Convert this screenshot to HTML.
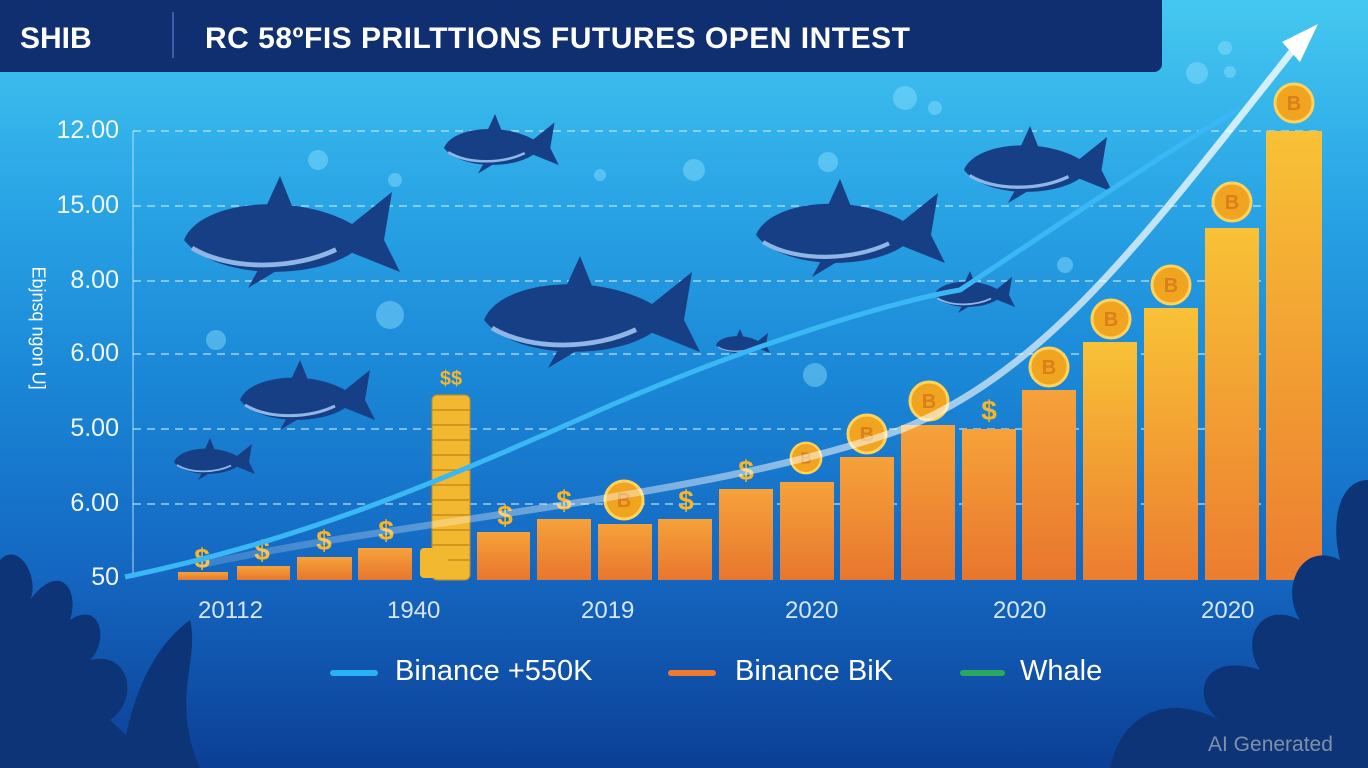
<!DOCTYPE html>
<html><head><meta charset="utf-8"><style>
html,body{margin:0;padding:0}
body{width:1368px;height:768px;overflow:hidden;position:relative;font-family:"Liberation Sans",sans-serif;
background:linear-gradient(180deg,#45c8f0 0%,#2aa6e6 25%,#1a86d6 50%,#1466c0 75%,#0c3f96 100%);}
.t{position:absolute;white-space:nowrap}
.yl{position:absolute;right:0;white-space:nowrap}
</style></head><body>
<svg width="1368" height="768" style="position:absolute;left:0;top:0">
<defs>
<linearGradient id="bar" x1="0" y1="1" x2="0" y2="0"><stop offset="0" stop-color="#e8762e"/><stop offset="1" stop-color="#f6a23a"/></linearGradient>
<linearGradient id="bar2" x1="0" y1="1" x2="0" y2="0"><stop offset="0" stop-color="#ec7d30"/><stop offset="1" stop-color="#f8c236"/></linearGradient>
<linearGradient id="wl" x1="0" x2="1"><stop offset="0" stop-color="#fff" stop-opacity="0.2"/><stop offset="1" stop-color="#fff"/></linearGradient>
<g id="wh"><path d="M-60,0 C-50,-25 10,-30 45,-10 L70,-30 L65,0 L75,20 L45,8 C20,25 -40,25 -60,0Z" fill="#173f86"/><path d="M-10,-18 L0,-40 L8,-20Z" fill="#173f86"/><path d="M-10,12 L-20,30 L5,15Z" fill="#173f86"/><path d="M-55,5 C-30,20 10,18 35,6" stroke="#8fb6e6" stroke-width="3" fill="none"/></g>
<g id="coin"><circle r="19" fill="#f0a420" stroke="#ffd25a" stroke-width="3"/><text y="7" text-anchor="middle" font-size="20" fill="#d9801a" font-family="Liberation Sans" font-weight="bold">B</text></g>
</defs>
<g fill="#8fe0ff" opacity="0.45">
<circle cx="318" cy="160" r="10"/><circle cx="395" cy="180" r="7"/><circle cx="600" cy="175" r="6"/><circle cx="694" cy="170" r="11"/><circle cx="828" cy="162" r="10"/><circle cx="905" cy="98" r="12"/><circle cx="935" cy="108" r="7"/><circle cx="1197" cy="73" r="11"/><circle cx="1225" cy="48" r="7"/><circle cx="390" cy="315" r="14"/><circle cx="216" cy="340" r="10"/><circle cx="815" cy="375" r="12"/><circle cx="1065" cy="265" r="8"/><circle cx="1230" cy="72" r="6"/><circle cx="965" cy="300" r="6"/>
</g>
<line x1="133" y1="131" x2="133" y2="578" stroke="#bfe6fb" stroke-width="1.5" opacity="0.6"/>
<g stroke="#bfe6fb" stroke-width="1.5" stroke-dasharray="8 6" opacity="0.8">
<line x1="133" y1="131" x2="1320" y2="131"/><line x1="133" y1="206" x2="1320" y2="206"/><line x1="133" y1="281" x2="1320" y2="281"/><line x1="133" y1="354" x2="1320" y2="354"/><line x1="133" y1="429" x2="1320" y2="429"/><line x1="133" y1="504" x2="1320" y2="504"/>
</g>
<use href="#wh" transform="translate(495,148) scale(0.85)"/>
<use href="#wh" transform="translate(280,240) scale(1.6)"/>
<use href="#wh" transform="translate(580,320) scale(1.6)"/>
<use href="#wh" transform="translate(840,235) scale(1.4)"/>
<use href="#wh" transform="translate(1030,170) scale(1.1)"/>
<use href="#wh" transform="translate(300,400) scale(1.0)"/>
<use href="#wh" transform="translate(210,462) scale(0.6)"/>
<use href="#wh" transform="translate(740,345) scale(0.4)"/>
<use href="#wh" transform="translate(970,295) scale(0.6)"/>
<g fill="url(#bar)">
<rect x="178" y="572" width="50" height="8"/><rect x="237" y="566" width="53" height="14"/><rect x="297" y="557" width="55" height="23"/><rect x="358" y="548" width="54" height="32"/>
<rect x="477" y="532" width="53" height="48"/><rect x="537" y="519" width="54" height="61"/><rect x="598" y="524" width="54" height="56"/><rect x="658" y="519" width="54" height="61"/><rect x="719" y="489" width="54" height="91"/><rect x="780" y="482" width="54" height="98"/><rect x="840" y="457" width="54" height="123"/><rect x="901" y="425" width="54" height="155"/><rect x="962" y="429" width="54" height="151"/><rect x="1022" y="390" width="54" height="190"/>
</g>
<g fill="url(#bar2)"><rect x="1083" y="342" width="54" height="238"/><rect x="1144" y="308" width="54" height="272"/><rect x="1205" y="228" width="54" height="352"/><rect x="1266" y="131" width="56" height="449"/></g>
<g fill="#f2b830" stroke="#c98a18" stroke-width="1">
<rect x="432" y="395" width="38" height="185" rx="5"/>
</g>
<g stroke="#c98a18" stroke-width="1.5"><line x1="432" y1="410" x2="470" y2="410"/><line x1="432" y1="425" x2="470" y2="425"/><line x1="432" y1="440" x2="470" y2="440"/><line x1="432" y1="455" x2="470" y2="455"/><line x1="432" y1="470" x2="470" y2="470"/><line x1="432" y1="485" x2="470" y2="485"/><line x1="432" y1="500" x2="470" y2="500"/><line x1="432" y1="515" x2="470" y2="515"/><line x1="432" y1="530" x2="470" y2="530"/><line x1="432" y1="545" x2="470" y2="545"/><line x1="432" y1="560" x2="470" y2="560"/></g>
<rect x="420" y="548" width="28" height="30" rx="4" fill="#f2b830"/>
<use href="#coin" transform="translate(624,500)"/><use href="#coin" transform="translate(867,434)"/><use href="#coin" transform="translate(929,401)"/><use href="#coin" transform="translate(1049,367)"/><use href="#coin" transform="translate(1111,319)"/><use href="#coin" transform="translate(1171,285)"/><use href="#coin" transform="translate(1232,202)"/><use href="#coin" transform="translate(1294,103)"/><use href="#coin" transform="translate(806,458) scale(0.8)"/>
<g font-family="Liberation Sans" font-size="28" font-weight="bold" fill="#f7b52a" text-anchor="middle">
<text x="202" y="568">$</text><text x="262" y="560">$</text><text x="324" y="550">$</text><text x="386" y="540">$</text><text x="505" y="525">$</text><text x="564" y="510">$</text><text x="686" y="510">$</text><text x="746" y="480">$</text><text x="989" y="420">$</text><text x="451" y="385" font-size="20">$$</text>
</g>
<path d="M200,565 C400,520 700,500 900,430 C1050,370 1150,230 1305,35" stroke="url(#wl)" stroke-width="7" fill="none" opacity="0.8"/>
<path d="M1282,42 L1318,24 L1300,62Z" fill="#fff"/>
<path d="M125,577 C300,540 420,490 600,410 C760,340 900,300 960,290 C1080,210 1170,150 1240,108" stroke="#3ab8f5" stroke-width="5" fill="none"/>
<g fill="#0c3476">
<path d="M0,768 L0,560 C20,540 40,580 30,600 C60,560 80,590 70,620 C100,600 110,640 90,660 C130,650 140,700 110,720 L160,768Z"/>
<path d="M120,768 C130,700 150,650 190,620 C200,660 170,700 200,768Z"/>
<path d="M1368,768 L1368,480 C1340,480 1330,520 1340,560 C1300,540 1280,590 1300,620 C1260,600 1240,640 1260,670 C1200,650 1190,700 1220,720 C1160,690 1120,720 1110,768Z"/>
</g>
</svg>
<div class="t" style="left:0;top:0;width:1162px;height:72px;background:#0f2f70;border-bottom-right-radius:8px"></div>
<div class="t" style="left:172px;top:12px;width:2px;height:46px;background:#3a5fa8"></div>
<div class="t" style="left:20px;top:22px;color:#fff;font-size:30px;font-weight:bold">SHIB</div>
<div class="t" style="left:205px;top:22px;color:#fff;font-size:30px;font-weight:bold;letter-spacing:0.5px">RC 58ºFIS PRILTTIONS FUTURES OPEN INTEST</div>
<div style="position:absolute;left:0;top:0;width:119px;color:#f2f8ff;font-size:25px">
<div class="yl" style="top:116px">12.00</div><div class="yl" style="top:191px">15.00</div><div class="yl" style="top:266px">8.00</div><div class="yl" style="top:339px">6.00</div><div class="yl" style="top:414px">5.00</div><div class="yl" style="top:489px">6.00</div><div class="yl" style="top:563px">50</div></div>
<div class="t" style="left:-22px;top:316px;transform:rotate(90deg);color:#fff;font-size:18px;width:120px;text-align:center">Ebjnsq ngon U]</div>
<div style="position:absolute;top:597px;color:#d6e6f8;font-size:24px">
<div class="t" style="left:198px">20112</div><div class="t" style="left:387px">1940</div><div class="t" style="left:581px">2019</div><div class="t" style="left:785px">2020</div><div class="t" style="left:993px">2020</div><div class="t" style="left:1201px">2020</div></div>
<div class="t" style="left:330px;top:670px;width:48px;height:6px;border-radius:3px;background:#2ab0f5"></div>
<div class="t" style="left:395px;top:655px;color:#fff;font-size:29px">Binance +550K</div>
<div class="t" style="left:668px;top:670px;width:48px;height:6px;border-radius:3px;background:#ef7a30"></div>
<div class="t" style="left:735px;top:655px;color:#fff;font-size:29px">Binance BiK</div>
<div class="t" style="left:960px;top:670px;width:45px;height:6px;border-radius:3px;background:#2aa860"></div>
<div class="t" style="left:1020px;top:655px;color:#fff;font-size:29px">Whale</div>
<div class="t" style="left:1208px;top:733px;color:#8090a8;font-size:21px">AI Generated</div>
</body></html>
